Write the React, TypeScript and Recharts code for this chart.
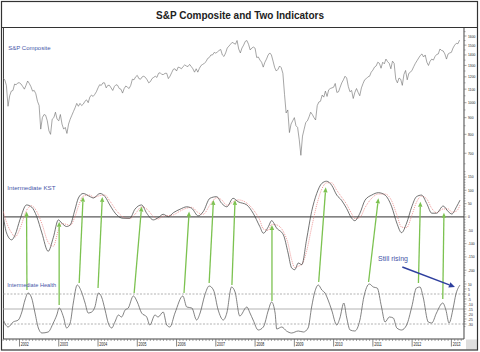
import React from 'react';
import { ComposedChart, Line, XAxis, YAxis, ReferenceLine } from 'recharts';

const TITLE = 'S&P Composite and Two Indicators';
const PANEL_LABELS = ['S&P Composite', 'Intermediate KST', 'Intermediate Health'];
const NOTE = 'Still rising';

// S&P Composite, semi-monthly closes starting Aug 2001
const SP_START = 2001.583;
const SP_STEP = 1 / 24;
const spValues = [
  1190, 1175, 1130, 975, 1050, 1085, 1090, 1140, 1135, 1150,
  1150, 1140, 1120, 1100, 1130, 1165, 1145, 1120, 1085, 1090, 1065, 1010, 980, 830, 900, 920, 915, 880, 820, 800, 890, 900, 935, 890,
  880, 920, 860, 830, 840, 805, 860, 890, 915, 940, 965, 995, 975, 995, 980, 990, 1010, 1020, 1000, 1040, 1055, 1045, 1060, 1080,
  1110, 1135, 1130, 1150, 1150, 1110, 1130, 1130, 1110, 1090, 1120, 1135, 1130, 1105, 1100, 1070, 1105, 1125, 1115, 1105, 1130, 1180, 1175, 1200,
  1212, 1185, 1180, 1200, 1205, 1195, 1175, 1150, 1160, 1185, 1195, 1205, 1195, 1230, 1235, 1220, 1220, 1230, 1230, 1185, 1205, 1235, 1265, 1270,
  1250, 1285, 1280, 1270, 1290, 1305, 1295, 1290, 1310, 1290, 1270, 1240, 1270, 1240, 1275, 1300, 1310, 1320, 1335, 1365, 1375, 1400, 1400, 1425,
  1418, 1430, 1445, 1455, 1400, 1385, 1420, 1470, 1490, 1510, 1530, 1520, 1510, 1550, 1460, 1420, 1470, 1500, 1540, 1550, 1510, 1450, 1470, 1480,
  1468, 1375, 1380, 1350, 1330, 1285, 1330, 1360, 1400, 1420, 1400, 1340, 1280, 1250, 1265, 1295, 1280, 1230, 1060, 930, 950, 810, 860, 880,
  900, 850, 840, 770, 690, 790, 830, 870, 880, 905, 935, 920, 900, 885, 980, 1005, 1010, 1055, 1040, 1085, 1045, 1095, 1105, 1110,
  1115, 1145, 1075, 1080, 1115, 1150, 1175, 1205, 1190, 1120, 1080, 1090, 1030, 1075, 1105, 1075, 1050, 1110, 1145, 1175, 1185, 1200, 1205, 1240,
  1258, 1285, 1295, 1330, 1320, 1275, 1330, 1315, 1360, 1335, 1320, 1270, 1340, 1320, 1180, 1150, 1190, 1180, 1130, 1220, 1255, 1175, 1230, 1240,
  1258, 1290, 1320, 1345, 1370, 1395, 1410, 1380, 1400, 1330, 1300, 1340, 1360, 1350, 1385, 1405, 1410, 1460, 1445, 1440, 1410, 1360, 1410, 1420,
  1426, 1470, 1500, 1520, 1515, 1555,
];

const kstDates = [
  2001.59, 2001.67, 2001.8, 2001.89, 2002.01, 2002.18, 2002.31, 2002.44, 2002.57, 2002.73, 2002.86, 2002.99,
  2003.07, 2003.2, 2003.29, 2003.41, 2003.5, 2003.62, 2003.8, 2003.88, 2004.05, 2004.18, 2004.3, 2004.48,
  2004.64, 2004.81, 2004.94, 2005.11, 2005.24, 2005.41, 2005.53, 2005.66, 2005.79, 2005.92, 2006.09, 2006.26,
  2006.39, 2006.55, 2006.68, 2006.85, 2007.02, 2007.15, 2007.28, 2007.44, 2007.57, 2007.79, 2007.95, 2008.12,
  2008.21, 2008.34, 2008.42, 2008.55, 2008.72, 2008.84, 2008.93, 2009.01, 2009.1, 2009.19, 2009.31, 2009.44,
  2009.57, 2009.7, 2009.82, 2009.95, 2010.08, 2010.2, 2010.33, 2010.46, 2010.54, 2010.67, 2010.8, 2010.97,
  2011.14, 2011.31, 2011.48, 2011.61, 2011.73, 2011.86, 2011.99, 2012.11, 2012.24, 2012.37, 2012.5, 2012.62,
  2012.79, 2012.92, 2013.01, 2013.13, 2013.22,
];
const kstValues = [
  1, -60, -86, -67, -11, 45, 37, 1, -60, -129, -78, -11,
  -22, -36, -30, 26, 71, 88, 76, 71, 88, 76, 45, 7,
  -5, -5, 29, 45, 14, -11, -3, 10, 1, 16, 29, 38,
  32, 4, 20, 70, 76, 51, 38, 70, 57, 45, 14, -36,
  -61, -36, -14, -42, -67, -135, -191, -198, -173, -179, -86, 20,
  88, 126, 134, 119, 82, 63, 32, -5, -14, 14, 63, 82,
  91, 82, 38, -23, -59, -23, 38, 76, 82, 51, 14, 14,
  41, 20, 11, 38, 63,
];
const kstSignal = [
  20, -20, -60, -75, -45, 25, 42, 20, -25, -95, -110, -50,
  -25, -28, -32, 0, 40, 78, 82, 74, 80, 82, 60, 22,
  0, -6, 10, 38, 30, 2, -8, 3, 5, 8, 22, 33,
  36, 16, 10, 45, 72, 64, 44, 56, 64, 52, 28, -12,
  -45, -50, -28, -30, -55, -100, -160, -190, -185, -178, -130, -40,
  45, 105, 128, 128, 100, 75, 48, 12, -6, -2, 35, 70,
  86, 86, 60, 8, -38, -40, 5, 55, 78, 68, 32, 16,
  30, 30, 18, 22, 45,
];

const healthDates = [
  2001.59, 2001.71, 2001.84, 2001.97, 2002.06, 2002.14, 2002.22, 2002.31, 2002.39, 2002.48, 2002.57, 2002.73,
  2002.86, 2002.95, 2003.01, 2003.12, 2003.2, 2003.29, 2003.37, 2003.47, 2003.58, 2003.67, 2003.75, 2003.84,
  2003.92, 2004.01, 2004.09, 2004.18, 2004.26, 2004.35, 2004.43, 2004.52, 2004.6, 2004.69, 2004.77, 2004.9,
  2005.0, 2005.11, 2005.24, 2005.32, 2005.45, 2005.53, 2005.66, 2005.75, 2005.83, 2005.96, 2006.16, 2006.26,
  2006.39, 2006.51, 2006.6, 2006.72, 2006.83, 2006.94, 2007.06, 2007.19, 2007.28, 2007.4, 2007.49, 2007.61,
  2007.79, 2007.87, 2007.95, 2008.08, 2008.21, 2008.34, 2008.42, 2008.51, 2008.55, 2008.68, 2008.8, 2008.93,
  2009.1, 2009.23, 2009.35, 2009.44, 2009.52, 2009.61, 2009.7, 2009.78, 2009.86, 2009.95, 2010.08, 2010.16,
  2010.26, 2010.33, 2010.42, 2010.54, 2010.67, 2010.77, 2010.91, 2011.01, 2011.11, 2011.22, 2011.31, 2011.42,
  2011.52, 2011.61, 2011.73, 2011.86, 2011.99, 2012.11, 2012.2, 2012.28, 2012.41, 2012.5, 2012.62, 2012.78,
  2012.86, 2012.94, 2013.05, 2013.11, 2013.22,
];
const healthValues = [
  -26, -33, -28, -26, -18, -6, 1, -4, -18, -34, -39, -38,
  -29, -21, -14, -23, -34, -29, -9, 9, 2, -9, -19, -18,
  -13, 1, -3, -16, -29, -34, -28, -21, -23, -16, -14, -2,
  -8, -19, -23, -31, -21, -23, -18, -31, -33, -19, -2, -13,
  -14, -26, -19, -1, 8, 4, -16, -26, -19, 7, 2, -22,
  -13, -19, -26, -36, -33, -16, -8, -19, -35, -33, -37, -39,
  -37, -38, -34, -13, 2, 9, 4, 1, -6, -16, -31, -24,
  -9, -23, -36, -37, -26, -3, 10, 7, 6, -13, -28, -23,
  -24, -34, -36, -31, -13, 6, 7, -3, -28, -29, -19, -9,
  -16, -29, -13, -1, 9,
];

const spTicks = [700, 800, 900, 1000, 1100, 1200, 1300, 1400, 1500, 1600];
const kstTicks = [-200, -150, -100, -50, 0, 50, 100, 150];
const healthTicks = [-30, -25, -20, -15, -10, -5, 0, 5, 10];
const healthLevels = [0, -15, -30];

// arrows: tail on Health (date, value) -> head on KST (date, value)
const greenArrows = [
  { t1: 2002.19, h: 4, t2: 2002.18, k: 20 },
  { t1: 2003.01, h: -11, t2: 2003.01, k: -18 },
  { t1: 2003.52, h: 11, t2: 2003.62, k: 76 },
  { t1: 2004.0, h: 6, t2: 2004.11, k: 75 },
  { t1: 2004.92, h: 1, t2: 2005.11, k: 39 },
  { t1: 2006.19, h: 1, t2: 2006.32, k: 20 },
  { t1: 2006.83, h: 11, t2: 2006.94, k: 64 },
  { t1: 2007.41, h: 9, t2: 2007.49, k: 64 },
  { t1: 2008.43, h: -7, t2: 2008.43, k: -30 },
  { t1: 2009.62, h: 12, t2: 2009.8, k: 111 },
  { t1: 2010.89, h: 12, t2: 2011.14, k: 70 },
  { t1: 2012.16, h: 11, t2: 2012.21, k: 57 },
  { t1: 2012.78, h: -5, t2: 2012.81, k: 16 },
];
const blueArrow = { t1: 2011.75, h1: 27, t2: 2013.09, h2: 7 };

const X_DOMAIN: [number, number] = [2001.58, 2013.32];
const SP_DOMAIN: [number, number] = [189, 1693];
const KST_DOMAIN: [number, number] = [-458, 709];
const HEALTH_DOMAIN: [number, number] = [-45, 266];

const kstToHealth = (k: number) =>
  HEALTH_DOMAIN[0] + ((k - KST_DOMAIN[0]) * (HEALTH_DOMAIN[1] - HEALTH_DOMAIN[0])) / (KST_DOMAIN[1] - KST_DOMAIN[0]);

// merged table
const rowMap = new Map<number, any>();
const put = (t: number, key: string, v: number) => {
  const k = Math.round(t * 1000) / 1000;
  const row = rowMap.get(k) || { t: k };
  row[key] = v;
  rowMap.set(k, row);
};
spValues.forEach((v, i) => put(SP_START + i * SP_STEP, 'sp', v));
kstDates.forEach((t, i) => {
  put(t, 'kst', kstValues[i]);
  put(t, 'sig', kstSignal[i]);
});
healthDates.forEach((t, i) => put(t, 'health', healthValues[i]));
const rows = Array.from(rowMap.values()).sort((a, b) => a.t - b.t);

const monthTicks: number[] = [];
for (let y = 2001; y <= 2013; y++) {
  for (let m = 0; m < 12; m++) {
    const v = Math.round((y + m / 12) * 10000) / 10000;
    if (v >= X_DOMAIN[0] && v <= X_DOMAIN[1]) monthTicks.push(v);
  }
}
const range = (a: number, b: number, s: number) => {
  const out: number[] = [];
  for (let v = a; v <= b + 1e-9; v += s) out.push(Math.round(v * 100) / 100);
  return out;
};
const spAll = range(650, 1650, 50);
const kstAll = range(-220, 170, 10);
const healthAll = range(-32.5, 12.5, 2.5);

const FONT = '"Liberation Sans", Arial, Helvetica, sans-serif';

const XTick = (p: any) => {
  const { x, y, payload } = p;
  const v = payload.value;
  const isYear = Math.abs(v - Math.round(v)) < 1e-6;
  if (!isYear) return <line x1={x} y1={y} x2={x} y2={y + 2} stroke="#666" strokeWidth={0.6} />;
  return (
    <g>
      <line x1={x} y1={y} x2={x} y2={y + 7.5} stroke="#555" strokeWidth={0.7} />
      <text
        transform={`translate(${x + 1.3},${y + 7.3}) scale(0.68,1)`}
        fontSize={5.2}
        fontFamily={FONT}
        fill="#222"
      >
        {Math.round(v)}
      </text>
    </g>
  );
};

const makeYTick = (majors: number[]) => (p: any) => {
  const { x, y, payload } = p;
  const v = payload.value;
  const isMajor = majors.some((m) => Math.abs(m - v) < 1e-6);
  return (
    <g>
      <line x1={x} y1={y} x2={x + (isMajor ? 2.5 : 1.5)} y2={y} stroke="#666" strokeWidth={0.6} />
      {isMajor && (
        <text
          transform={`translate(${x + 4},${y + 1.5}) scale(0.78,1)`}
          fontSize={4.3}
          fontFamily={FONT}
          fill="#222"
        >
          {v}
        </text>
      )}
    </g>
  );
};

const arrowShape = (color: string, width: number, head: number, half: number) => (props: any) => {
  const { x1, y1, x2, y2 } = props;
  if ([x1, y1, x2, y2].some((v) => typeof v !== 'number' || isNaN(v))) return <g />;
  const dx = x2 - x1;
  const dy = y2 - y1;
  const len = Math.hypot(dx, dy) || 1;
  const ux = dx / len;
  const uy = dy / len;
  const bx = x2 - ux * head;
  const by = y2 - uy * head;
  const px = -uy * half;
  const py = ux * half;
  return (
    <g>
      <line x1={x1} y1={y1} x2={bx} y2={by} stroke={color} strokeWidth={width} />
      <polygon points={`${x2},${y2} ${bx + px},${by + py} ${bx - px},${by - py}`} fill={color} />
    </g>
  );
};

const greenShape = arrowShape('#7cc250', 1.3, 5, 2.2);
const blueShape = arrowShape('#2e3f9e', 1.5, 6, 2.8);

export default function App() {
  return (
    <div
      style={{
        position: 'absolute',
        left: 0,
        top: 0,
        width: 480,
        height: 352,
        background: '#fff',
        fontFamily: FONT,
      }}
    >
      <svg width={480} height={352} style={{ position: 'absolute', left: 0, top: 0 }}>
        <rect x={466} y={339.5} width={11.5} height={10} fill="#dedede" />
        <rect x={1.5} y={1.5} width={476} height={348.5} fill="none" stroke="#333" strokeWidth={1.2} />
        <line x1={1.5} y1={27.5} x2={477.5} y2={27.5} stroke="#333" strokeWidth={1} />
        <line x1={3.5} y1={27.5} x2={3.5} y2={339} stroke="#444" strokeWidth={1} />
      </svg>
      <div style={{ position: 'absolute', left: 0, top: 0 }}>
        <ComposedChart width={480} height={352} data={rows} margin={{ top: 28, right: 16, bottom: 0, left: 3 }}>
          <XAxis
            dataKey="t"
            type="number"
            domain={X_DOMAIN}
            allowDataOverflow
            ticks={monthTicks}
            interval={0}
            tick={(p: any) => <XTick {...p} />}
            tickLine={false}
            tickSize={0}
            tickMargin={0}
            height={13}
            stroke="#444"
          />
          <YAxis
            yAxisId="sp"
            orientation="right"
            scale="log"
            type="number"
            domain={SP_DOMAIN}
            allowDataOverflow
            ticks={spAll}
            interval={0}
            width={0.01}
            tick={makeYTick(spTicks)}
            tickLine={false}
            tickSize={0}
            tickMargin={0}
            stroke="#444"
          />
          <YAxis
            yAxisId="kst"
            orientation="right"
            type="number"
            domain={KST_DOMAIN}
            allowDataOverflow
            ticks={kstAll}
            interval={0}
            width={0.01}
            tick={makeYTick(kstTicks)}
            tickLine={false}
            tickSize={0}
            tickMargin={0}
            axisLine={false}
          />
          <YAxis
            yAxisId="health"
            orientation="right"
            type="number"
            domain={HEALTH_DOMAIN}
            allowDataOverflow
            ticks={healthAll}
            interval={0}
            width={0.01}
            tick={makeYTick(healthTicks)}
            tickLine={false}
            tickSize={0}
            tickMargin={0}
            axisLine={false}
          />
          <ReferenceLine yAxisId="kst" y={0} stroke="#5a5a5a" strokeWidth={1.3} />
          {healthLevels.map((lv, i) => (
            <ReferenceLine
              key={'hl' + i}
              yAxisId="health"
              y={lv}
              stroke="#a0a0a0"
              strokeWidth={0.8}
              strokeDasharray={i === 1 ? undefined : '2 1.5'}
            />
          ))}
          <Line yAxisId="sp" dataKey="sp" type="linear" stroke="#6a6a6a" strokeWidth={0.6} dot={false} activeDot={false} connectNulls isAnimationActive={false} />
          <Line yAxisId="kst" dataKey="sig" type="monotone" stroke="#ea8080" strokeWidth={0.8} strokeDasharray="1 1" dot={false} activeDot={false} connectNulls isAnimationActive={false} />
          <Line yAxisId="kst" dataKey="kst" type="monotone" stroke="#444" strokeWidth={0.75} dot={false} activeDot={false} connectNulls isAnimationActive={false} />
          <Line yAxisId="health" dataKey="health" type="monotone" stroke="#5a5a5a" strokeWidth={0.75} dot={false} activeDot={false} connectNulls isAnimationActive={false} />
          {greenArrows.map((a, i) => (
            <ReferenceLine
              key={'ga' + i}
              yAxisId="health"
              segment={[
                { x: a.t1, y: a.h },
                { x: a.t2, y: kstToHealth(a.k) },
              ]}
              shape={greenShape}
              ifOverflow="visible"
            />
          ))}
          <ReferenceLine
            yAxisId="health"
            segment={[
              { x: blueArrow.t1, y: blueArrow.h1 },
              { x: blueArrow.t2, y: blueArrow.h2 },
            ]}
            shape={blueShape}
            ifOverflow="visible"
          />
        </ComposedChart>
      </div>
      <svg width={480} height={352} style={{ position: 'absolute', left: 0, top: 0, pointerEvents: 'none' }}>
        <text x={240} y={18.6} textAnchor="middle" fontSize={10} fontWeight="bold" fontFamily={FONT} fill="#222">
          {TITLE}
        </text>
        <text x={8.3} y={49.6} fontSize={6} fontFamily={FONT} fill="#4656a8">
          {PANEL_LABELS[0]}
        </text>
        <text x={7.3} y={190.2} fontSize={6.2} fontFamily={FONT} fill="#4656a8">
          {PANEL_LABELS[1]}
        </text>
        <text x={7.3} y={286.8} fontSize={5.6} fontFamily={FONT} fill="#4656a8">
          {PANEL_LABELS[2]}
        </text>
        <text x={378} y={261.3} fontSize={7} fontFamily={FONT} fill="#4656a8">
          {NOTE}
        </text>
      </svg>
    </div>
  );
}
